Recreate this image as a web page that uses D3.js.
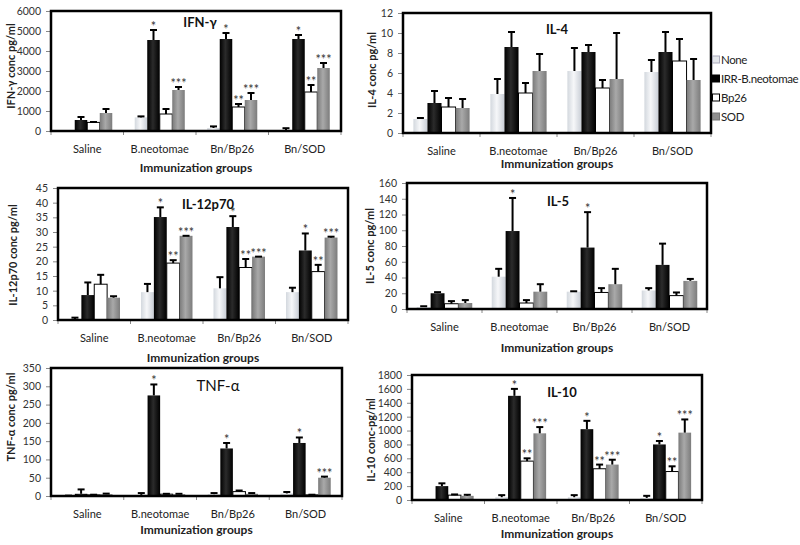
<!DOCTYPE html>
<html><head><meta charset="utf-8">
<script src="https://cdn.jsdelivr.net/npm/d3@7"></script>
<style>body{margin:0;background:#fff}</style>
</head><body><svg id="c" width="800" height="545"></svg>
<script>
// ---------- DATA ----------
const groups = ["Saline", "B.neotomae", "Bn/Bp26", "Bn/SOD"];
const series = ["None", "IRR-B.neotomae", "Bp26", "SOD"];

// rows = groups, columns = series
const ifnMean = [[0, 550, 430, 900], [680, 4550, 850, 2050], [150, 4600, 1200, 1550], [50, 4600, 1950, 3150]];
const ifnSD   = [[0, 150, 20, 200], [50, 500, 250, 150], [80, 300, 150, 350], [90, 200, 350, 250]];
const ifnStars = [["", "", "", ""], ["", "*", "", "***"], ["", "*", "**", "***"], ["", "*", "**", "***"]];
const ifnTicks = [0, 1000, 2000, 3000, 4000, 5000, 6000];

const il4Mean = [[1.4, 3.0, 2.6, 2.5], [3.9, 8.6, 4.0, 6.2], [6.2, 8.1, 4.5, 5.4], [6.1, 8.1, 7.2, 5.3]];
const il4SD   = [[0.1, 1.2, 0.9, 0.9], [1.5, 1.5, 1.0, 1.7], [2.3, 0.7, 0.8, 4.6], [1.2, 2.0, 2.2, 2.1]];
const il4Stars = [["", "", "", ""], ["", "", "", ""], ["", "", "", ""], ["", "", "", ""]];
const il4Ticks = [0, 2, 4, 6, 8, 10, 12];

const il12Mean = [[0.3, 8.5, 12.2, 7.6], [9.5, 35.1, 19.4, 28.7], [10.8, 31.7, 17.9, 21.6], [9.5, 23.7, 16.5, 28.1]];
const il12SD   = [[0.5, 4.3, 3.2, 0.5], [2.8, 3.3, 1.0, 0], [3.8, 3.7, 2.9, 0], [1.5, 5.8, 2.3, 0.3]];
const il12Stars = [["", "", "", ""], ["", "*", "**", "***"], ["", "*", "**", "***"], ["", "*", "**", "***"]];
const il12Ticks = [0, 5, 10, 15, 20, 25, 30, 35, 40, 45];

const il5Mean = [[2.5, 20, 6.7, 7.6], [41, 99, 7.6, 22], [22, 78, 21, 31.5], [23.5, 56, 17, 35.7]];
const il5SD   = [[1, 1.4, 3.3, 3.7], [10, 42, 3.7, 9.5], [0.5, 45, 5.5, 19.5], [3, 27, 4, 2.5]];
const il5Stars = [["", "", "", ""], ["", "*", "", ""], ["", "*", "", ""], ["", "", "", ""]];
const il5Ticks = [0, 20, 40, 60, 80, 100, 120, 140, 160];

const tnfMean = [[1, 6, 3, 5], [3, 275, 5, 5], [5, 130, 12, 6], [7, 145, 3, 50]];
const tnfSD   = [[0, 12, 0.5, 1.5], [5, 30, 1, 1], [3, 15, 3, 2], [4, 15, 0.5, 3]];
const tnfStars = [["", "", "", ""], ["", "*", "", ""], ["", "*", "", ""], ["", "*", "", "***"]];
const tnfTicks = [0, 50, 100, 150, 200, 250, 300, 350];

const il10Mean = [[0, 200, 70, 60], [40, 1500, 560, 960], [40, 1020, 450, 510], [30, 800, 410, 970]];
const il10SD   = [[0, 40, 10, 15], [30, 100, 40, 90], [30, 120, 60, 70], [30, 50, 75, 190]];
const il10Stars = [["", "", "", ""], ["", "*", "**", "***"], ["", "*", "**", "***"], ["", "*", "**", "***"]];
const il10Ticks = [0, 200, 400, 600, 800, 1000, 1200, 1400, 1600, 1800];

// ---------- LAYOUT ----------
const panels = [
  {mean: ifnMean, sd: ifnSD, stars: ifnStars, ticks: ifnTicks, title: "IFN-γ", titleBold: true,
   yTitle: "IFN-γ conc pg/ml", box: [51, 11, 341, 131], frac: 0.69, titleXY: [200, 27],
   yTitleXY: [11, 66], xTitleDy: 41},
  {mean: il4Mean, sd: il4SD, stars: il4Stars, ticks: il4Ticks, title: "IL-4", titleBold: true,
   yTitle: "IL-4 conc pg/ml", box: [403, 13, 711, 133], frac: 0.73, titleXY: [557, 34],
   yTitleXY: [372, 70], xTitleDy: 35},
  {mean: il12Mean, sd: il12SD, stars: il12Stars, ticks: il12Ticks, title: "IL-12p70", titleBold: true,
   yTitle: "IL-12p70 conc pg/ml", box: [58, 188, 348, 320], frac: 0.71, titleXY: [208, 209],
   yTitleXY: [13, 255], xTitleDy: 42},
  {mean: il5Mean, sd: il5SD, stars: il5Stars, ticks: il5Ticks, title: "IL-5", titleBold: true,
   yTitle: "IL-5 conc pg/ml", box: [407, 183, 707, 309], frac: 0.74, titleXY: [558, 206],
   yTitleXY: [370, 246], xTitleDy: 43},
  {mean: tnfMean, sd: tnfSD, stars: tnfStars, ticks: tnfTicks, title: "TNF-α", titleBold: false,
   yTitle: "TNF-α  conc pg/ml", box: [51, 368, 342, 496], frac: 0.69, titleXY: [218, 391],
   yTitleXY: [11, 417], xTitleDy: 38},
  {mean: il10Mean, sd: il10SD, stars: il10Stars, ticks: il10Ticks, title: "IL-10", titleBold: true,
   yTitle: "IL-10 conc-pg/ml", box: [412, 375, 702, 500], frac: 0.70, titleXY: [562, 397],
   yTitleXY: [371, 440], xTitleDy: 38}
];

const FONT = "Lato, 'Open Sans', sans-serif";
const svg = d3.select("#c");
const defs = svg.append("defs");

function grad(id, stops) {
  const g = defs.append("linearGradient").attr("id", id).attr("x1", "0%").attr("x2", "100%").attr("y1", "0%").attr("y2", "0%");
  stops.forEach(([o, c]) => g.append("stop").attr("offset", o).attr("stop-color", c));
}
grad("gNone", [["0%", "#d3d8de"], ["45%", "#f6f7f9"], ["100%", "#c9ced6"]]);
grad("gIRR", [["0%", "#000"], ["45%", "#2b2b2b"], ["100%", "#000"]]);
grad("gBp", [["0%", "#fff"], ["100%", "#fff"]]);
grad("gSOD", [["0%", "#7a7a7a"], ["45%", "#a9a9a9"], ["100%", "#7c7c7c"]]);
const fills = ["url(#gNone)", "url(#gIRR)", "url(#gBp)", "url(#gSOD)"];
const strokes = ["none", "none", "#000", "none"];

panels.forEach(p => {
  const [L, T, R, B] = p.box;
  const x0 = d3.scaleBand().domain(groups).range([L, R]);
  const bw = x0.bandwidth();
  const x1 = d3.scaleBand().domain(series).range([bw * (1 - p.frac) / 2, bw * (1 + p.frac) / 2]);
  const y = d3.scaleLinear().domain([0, d3.max(p.ticks)]).range([B, T]);
  const g = svg.append("g");

  // y axis
  const ya = g.append("g").attr("transform", `translate(${L},0)`)
    .call(d3.axisLeft(y).tickValues(p.ticks).tickSize(5).tickPadding(5).tickFormat(d3.format("d")));
  ya.select(".domain").attr("stroke", "#888");
  ya.selectAll(".tick line").attr("stroke", "#888");
  ya.selectAll("text").attr("font-family", FONT).attr("font-size", 10.5).attr("fill", "#333");

  // x axis
  const xa = g.append("g").attr("transform", `translate(0,${B})`)
    .call(d3.axisBottom(x0).tickSize(0).tickPadding(14));
  xa.select(".domain").remove();
  xa.selectAll("text").attr("font-family", FONT).attr("font-size", 11).attr("fill", "#222");
  g.selectAll(".gtick").data(groups.concat(["_end"])).enter().append("line")
    .attr("x1", d => d === "_end" ? R : x0(d)).attr("x2", d => d === "_end" ? R : x0(d))
    .attr("y1", B).attr("y2", B + 4).attr("stroke", "#888");

  // bars
  const rows = [];
  p.mean.forEach((row, gi) => row.forEach((v, si) => rows.push({gi, si, v, sd: p.sd[gi][si], star: p.stars[gi][si]})));
  const bx = d => x0(groups[d.gi]) + x1(series[d.si]);
  const bwid = x1.bandwidth();
  g.selectAll(".bar").data(rows).enter().append("rect")
    .attr("x", bx).attr("width", bwid)
    .attr("y", d => y(d.v)).attr("height", d => Math.max(0, B - y(d.v)))
    .attr("fill", d => fills[d.si]).attr("stroke", d => strokes[d.si]).attr("stroke-width", 1);

  // error bars
  const eb = rows.filter(d => d.v > 0 || d.sd > 0);
  g.selectAll(".ev").data(eb).enter().append("line")
    .attr("x1", d => bx(d) + bwid / 2).attr("x2", d => bx(d) + bwid / 2)
    .attr("y1", d => y(d.v)).attr("y2", d => y(d.v + d.sd))
    .attr("stroke", "#000").attr("stroke-width", 2);
  g.selectAll(".ec").data(eb).enter().append("line")
    .attr("x1", d => bx(d) + bwid / 2 - 3.5).attr("x2", d => bx(d) + bwid / 2 + 3.5)
    .attr("y1", d => y(d.v + d.sd)).attr("y2", d => y(d.v + d.sd))
    .attr("stroke", "#000").attr("stroke-width", 2);

  // stars
  g.selectAll(".st").data(rows.filter(d => d.star)).enter().append("text")
    .attr("x", d => bx(d) + bwid / 2).attr("y", d => y(d.v + d.sd) + 1)
    .attr("text-anchor", "middle").attr("font-family", FONT).attr("font-size", 12.5)
    .attr("fill", "#333").text(d => d.star);

  // frame
  g.append("rect").attr("x", L).attr("y", T).attr("width", R - L).attr("height", B - T)
    .attr("fill", "none").attr("stroke", "#000").attr("stroke-width", 2.5);

  // titles
  g.append("text").attr("x", p.titleXY[0]).attr("y", p.titleXY[1]).attr("text-anchor", "middle")
    .attr("font-family", FONT).attr("font-size", p.titleBold ? 13 : 15)
    .attr("font-weight", p.titleBold ? "bold" : "normal").attr("fill", "#111").text(p.title);
  g.append("text").attr("x", (L + R) / 2).attr("y", B + p.xTitleDy).attr("text-anchor", "middle")
    .attr("font-family", FONT).attr("font-size", 12).attr("font-weight", "bold").attr("fill", "#222")
    .text("Immunization groups");
  g.append("text").attr("transform", `translate(${p.yTitleXY[0]},${p.yTitleXY[1]}) rotate(-90)`)
    .attr("text-anchor", "middle").attr("dy", "0.35em")
    .attr("font-family", FONT).attr("font-size", 11).attr("font-weight", "bold").attr("fill", "#222")
    .text(p.yTitle);
});

// legend
const lg = svg.append("g").attr("transform", "translate(712,60)");
const legFill = ["#e3e6ea", "#000", "#fff", "#8e8e8e"];
const legStroke = ["#aab", "#000", "#000", "#777"];
series.forEach((s, i) => {
  const it = lg.append("g").attr("transform", `translate(0,${i * 19})`);
  it.append("rect").attr("x", 0.5).attr("y", -4).attr("width", 7).attr("height", 7)
    .attr("fill", legFill[i]).attr("stroke", legStroke[i]).attr("stroke-width", 1);
  it.append("text").attr("x", 9).attr("y", 0).attr("dy", "0.35em")
    .attr("font-family", FONT).attr("font-size", 11.5).attr("letter-spacing", -0.4)
    .attr("fill", "#222").text(s);
});
</script>
</body></html>
